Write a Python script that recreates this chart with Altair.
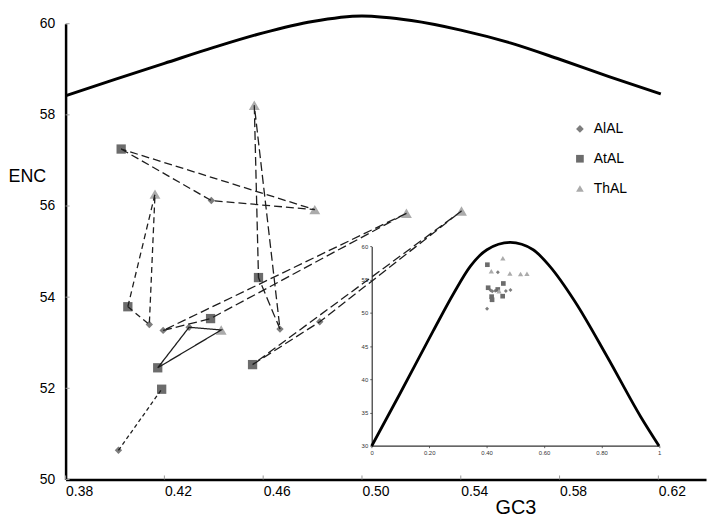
import altair as alt
import pandas as pd

SERIES = ["AlAL", "AtAL", "ThAL"]

# Measured points (GC3, ENC)
alal_gc3 = [0.4390, 0.4139, 0.4195, 0.4668, 0.4829, 0.4014, 0.4300]
alal_enc = [56.12, 53.40, 53.27, 53.30, 53.46, 50.64, 53.34]
atal_gc3 = [0.4025, 0.4052, 0.4387, 0.4173, 0.4189, 0.4581, 0.4557]
atal_enc = [57.25, 53.79, 53.53, 52.45, 51.98, 54.43, 52.52]
thal_gc3 = [0.4809, 0.4162, 0.4564, 0.5180, 0.5403, 0.4430]
thal_enc = [55.92, 56.26, 58.21, 55.84, 55.89, 53.28]

# Connection paths (series, index) for each gene group
group_names = ["A", "B", "C", "D", "E", "F", "G"]
group_paths = [
    [("AtAL", 0), ("AlAL", 0), ("ThAL", 0), ("AtAL", 0)],
    [("AtAL", 1), ("ThAL", 1), ("AlAL", 1), ("AtAL", 1)],
    [("ThAL", 2), ("AtAL", 5), ("AlAL", 3), ("ThAL", 2)],
    [("AlAL", 2), ("AtAL", 2), ("ThAL", 3), ("AlAL", 2)],
    [("AtAL", 6), ("AlAL", 4), ("ThAL", 4), ("AtAL", 6)],
    [("AtAL", 3), ("AlAL", 6), ("ThAL", 5), ("AtAL", 3)],
    [("AlAL", 5), ("AtAL", 4)],
]
group_dash = [[8, 4], [6, 4], [9, 4], [9, 4], [9, 4], [1, 0], [4, 3]]

# Expected-ENC curve
curve_gc3 = [0.38, 0.40, 0.42, 0.44, 0.46, 0.48, 0.50, 0.52, 0.54, 0.56, 0.58, 0.60, 0.621]
curve_enc = [58.42, 58.78, 59.13, 59.48, 59.80, 60.05, 60.17, 60.07, 59.86, 59.58, 59.22, 58.84, 58.46]

# Expected-ENC curve
inset_curve_gc3 = [0, 0.1, 0.214, 0.286, 0.343, 0.401, 0.482, 0.562, 0.620, 0.706, 0.821, 0.936, 1.0]
inset_curve_enc = [30, 38.0, 47.3, 53.0, 57.0, 59.5, 60.6, 59.5, 57.0, 51.8, 43.3, 34.4, 30]

x_ticks = [0.38, 0.42, 0.46, 0.50, 0.54, 0.58, 0.62]
y_ticks = [50, 52, 54, 56, 58, 60]
inset_x_ticks = [0, 0.2, 0.4, 0.6, 0.8, 1]
inset_y_ticks = [30, 35, 40, 45, 50, 55, 60]

FONT = "Liberation Sans"
W, H = 645, 459

src = {"AlAL": (alal_gc3, alal_enc), "AtAL": (atal_gc3, atal_enc), "ThAL": (thal_gc3, thal_enc)}
pts = []
for s in SERIES:
    gx, gy = src[s]
    for a, b in zip(gx, gy):
        pts.append({"series": s, "kind": s, "gc3": a, "enc": b})
df_pts = pd.DataFrame(pts)

rows = []
for g, path in zip(group_names, group_paths):
    for k, (s, i) in enumerate(path):
        rows.append({"group": g, "step": k, "gc3": src[s][0][i], "enc": src[s][1][i]})
df_lines = pd.DataFrame(rows)

df_curve = pd.DataFrame({"gc3": curve_gc3, "enc": curve_enc})
df_icurve = pd.DataFrame({"gc3": inset_curve_gc3, "enc": inset_curve_enc})
df_xt = pd.DataFrame({"v": x_ticks})
df_yt = pd.DataFrame({"v": y_ticks})

xs = alt.Scale(domain=[0.38, 0.6393], nice=False, zero=False)
ys = alt.Scale(domain=[50, 60], nice=False, zero=False)

x_axis = alt.Axis(values=x_ticks, format=".2f", labelAlign="left", labelFontSize=14,
                  labelPadding=5, ticks=False, domainWidth=2.5, domainColor="black",
                  grid=False, title="GC3", titleFontSize=20, titleFontWeight="normal",
                  titleX=453, titleY=34, titleBaseline="alphabetic", titleAlign="center",
                  labelColor="black", titleColor="black", labelFont=FONT, titleFont=FONT,
                  labelOverlap=False, labelFlush=False)
y_axis = alt.Axis(values=y_ticks, format="d", labelFontSize=14, labelPadding=11,
                  ticks=False, domainWidth=2.5, domainColor="black", grid=False,
                  title="ENC", titleAngle=0, titleAlign="left", titleBaseline="middle",
                  titleX=-58, titleY=154, titleFontSize=18, titleFontWeight="normal",
                  labelColor="black", titleColor="black", labelFont=FONT, titleFont=FONT,
                  labelOverlap=False, labelFlush=False)

color_enc = alt.Color("series:N", title=None,
                      scale=alt.Scale(domain=SERIES, range=["#7d7d7d", "#6c6c6c", "#ababab"]),
                      legend=alt.Legend(orient="none", legendX=511, legendY=99))
shape_enc = alt.Shape("series:N", title=None,
                      scale=alt.Scale(domain=SERIES, range=["diamond", "square", "triangle-up"]),
                      legend=alt.Legend(orient="none", legendX=511, legendY=99))

curve = alt.Chart(df_curve).mark_line(color="black", strokeWidth=3, interpolate="monotone").encode(
    x=alt.X("gc3:Q", scale=xs, axis=x_axis),
    y=alt.Y("enc:Q", scale=ys, axis=y_axis),
)
xtick = alt.Chart(df_xt).mark_rule(color="#999999", strokeWidth=1).encode(
    x=alt.X("v:Q", scale=xs), y=alt.value(H), y2=alt.value(H - 4))
ytick = alt.Chart(df_yt).mark_rule(color="#999999", strokeWidth=1).encode(
    y=alt.Y("v:Q", scale=ys), x=alt.value(0), x2=alt.value(4))

points = alt.Chart(df_pts).mark_point(filled=True, opacity=1, strokeWidth=0).encode(
    x=alt.X("gc3:Q", scale=xs),
    y=alt.Y("enc:Q", scale=ys),
    color=color_enc,
    shape=shape_enc,
    size=alt.Size("kind:N", scale=alt.Scale(domain=SERIES, range=[55, 120, 110]), legend=None),
)
lines = alt.Chart(df_lines).mark_line(color="#1e1e1e", strokeWidth=1.3).encode(
    x=alt.X("gc3:Q", scale=xs),
    y=alt.Y("enc:Q", scale=ys),
    detail="group:N",
    order="step:Q",
    strokeDash=alt.StrokeDash("group:N", scale=alt.Scale(domain=group_names, range=group_dash), legend=None),
)
main = alt.layer(curve, xtick, ytick, points, lines)

ixs = alt.Scale(domain=[0, 1], range=[308.3, 597.7], nice=False, zero=False)
iys = alt.Scale(domain=[30, 60], range=[425.3, 224.3], nice=False, zero=False)
ix_axis = alt.Axis(orient="bottom", offset=-34, values=inset_x_ticks,
                   labelExpr="datum.value == 0 ? '0' : datum.value == 1 ? '1' : format(datum.value, '.2f')",
                   labelFontSize=6, labelPadding=2, tickSize=2, tickColor="#666666",
                   domainWidth=1.2, domainColor="#333333", grid=False, title="",
                   labelColor="#333333", labelFont=FONT, labelOverlap=False, labelFlush=False)
iy_axis = alt.Axis(orient="left", offset=-308.3, values=inset_y_ticks, format="d",
                   labelFontSize=6, labelPadding=2, tickSize=2, tickColor="#666666",
                   domainWidth=1.2, domainColor="#333333", grid=False, title="",
                   labelColor="#333333", labelFont=FONT, labelOverlap=False, labelFlush=False)

icurve = alt.Chart(df_icurve).mark_line(color="black", strokeWidth=2.8, interpolate="monotone").encode(
    x=alt.X("gc3:Q", scale=ixs, axis=ix_axis),
    y=alt.Y("enc:Q", scale=iys, axis=iy_axis),
)
ipoints = alt.Chart(df_pts).mark_point(filled=True, opacity=1, strokeWidth=0).encode(
    x=alt.X("gc3:Q", scale=ixs),
    y=alt.Y("enc:Q", scale=iys),
    color=color_enc,
    shape=shape_enc,
    size=alt.Size("kind:N", scale=alt.Scale(domain=SERIES, range=[16, 28, 26]), legend=None),
)
inset = alt.layer(icurve, ipoints)

chart = alt.layer(main, inset).resolve_scale(
    x="independent", y="independent", size="independent"
).properties(
    width=W, height=H,
    padding={"left": 0, "top": 0, "right": 4, "bottom": 0},
).configure_view(stroke=None).configure_legend(
    labelFontSize=14, labelFont=FONT,
    labelColor="black", symbolSize=60, rowPadding=16, labelOffset=7, padding=0,
    symbolStrokeWidth=0,
)

chart.save("out.html", embed_options={"renderer": "svg", "actions": False})
